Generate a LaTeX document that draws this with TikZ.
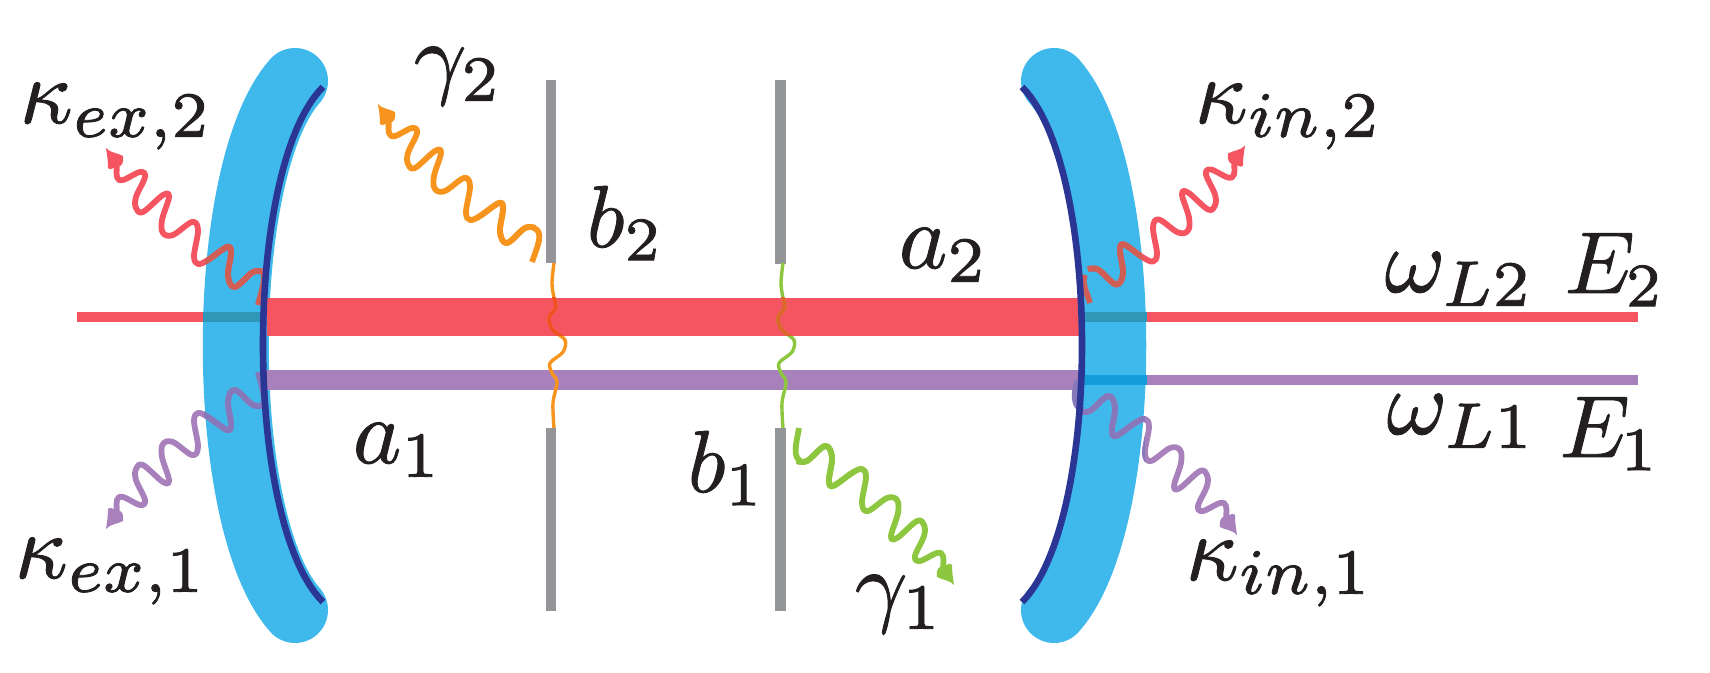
\documentclass[tikz,border=0pt]{standalone}
\definecolor{rd}{HTML}{F45560}
\definecolor{pu}{HTML}{A881BC}
\definecolor{bl}{HTML}{3FB8EC}
\definecolor{dk}{HTML}{2B3594}
\definecolor{gr}{HTML}{939598}
\definecolor{org}{HTML}{F7941D}
\definecolor{grn}{HTML}{8DC63F}
\definecolor{rdb}{HTML}{D05E55}
\definecolor{pub}{HTML}{8678BB}
\definecolor{rdo}{HTML}{2F97B7}
\definecolor{puo}{HTML}{129CDB}
\definecolor{orr}{HTML}{F04E23}
\definecolor{grr}{HTML}{DE6428}
\definecolor{ink}{HTML}{231F20}
\newcommand\wavecurve{plot[smooth,tension=.6] coordinates {(263,272)(253,272)(235,287)(228,276)(231,253)(227,247)(208,260)(198,264)(194,256)(198,230)(192,222)(173,235)(163,233)(162,220)(169,197)(163,195)(143,212)(136,208)(136,197)(145,177)(140,172)(123,180)(117,177)(117,163)}}
\newcommand\waveblob{(106,148) .. controls (110,153) and (118,153) .. (123,156) .. controls (124,163) and (122,166) .. (117,167) .. controls (113,167) and (111,171) .. (108,168) .. controls (108,160) and (107,155) .. (106,148) -- cycle}
\newcommand\wavegroup[4]{% transform, colour, colour on mirror, local clip x
  \begin{scope}[#1]
    \draw[wavestroke,#2] \wavecurve;
    \fill[#2] \waveblob;
    \begin{scope}
      \clip (#4,0) rectangle (300,320);
      \draw[wavestroke,#3] \wavecurve;
    \end{scope}
  \end{scope}}
\newcommand\thinwave{plot[smooth,tension=.55] coordinates {(554,263)(552,283)(554,298)(556,307)(549,318)(553,330)(565,340)(563,352)(550,363)(552,373)(557,382)(553,403)(554,428)}}
\tikzset{
  wavestroke/.style={line width=2.9pt,line join=round},
  thinstroke/.style={line width=1.7pt},
  labbase/.style={anchor=base west,inner sep=0pt,text=ink,
    execute at begin node={\special{pdf:code 2 Tr 0.09 w}},
    execute at end node={\special{pdf:code 0 Tr}}},
  lab/.style={labbase,scale=4.6},
  labs/.style={labbase,scale=4.4},
  mirrorbody/.style={bl,line width=33pt,line cap=round},
  mirrorface/.style={dk,line width=3.3pt},
  slit/.style={gr,line width=5.25pt},
}
\begin{document}
\begin{tikzpicture}[x=0.5pt,y=-0.5pt]
\useasboundingbox (0,0) rectangle (1710,673);
% thin beams
\fill[rd] (77,312) rectangle (1638,322);
\fill[pu] (1000,375) rectangle (1638,385);
% mirrors
\draw[mirrorbody] (295,81) .. controls (216,170) and (216,521) .. (295,610);
\draw[mirrorbody] (1054,81) .. controls (1133,170) and (1133,521) .. (1054,610);
\fill[rdo] (203,312) rectangle (262,322);
\fill[rdo] (1084,312) rectangle (1147,322);
\fill[puo] (1084,375) rectangle (1147,385);
% thick beams
\fill[rd] (267,298) rectangle (1080,336);
\fill[pu] (263,370) rectangle (1080,390);
% slits
\draw[slit] (551,80) -- (551,263);
\draw[slit] (551,428) -- (551,611);
\draw[slit] (780.5,80) -- (780.5,264);
\draw[slit] (780.5,428) -- (780.5,611);
% tails
\draw[wavestroke,rdb] (263,272) .. controls (266,280) and (261,292) .. (258,305);
\draw[wavestroke,pub] (263,405) .. controls (266,397) and (261,385) .. (258,372);
\draw[wavestroke,rdb] (1085,275) .. controls (1081,283) and (1087,292) .. (1090,303);
\draw[wavestroke,pub] (1083,410) .. controls (1073,408) and (1073,392) .. (1078,380);
\draw[wavestroke,org] (534,228) .. controls (544,232) and (538,245) .. (532,262);
\draw[wavestroke,grn] (802,462) .. controls (792,458) and (796,445) .. (799,428);
% wavy emission
\wavegroup{}{rd}{rdb}{205}
\wavegroup{shift={(0,677)},yscale=-1}{pu}{pub}{204}
\wavegroup{shift={(1351,-2.5)},xscale=-1}{rd}{rdb}{209}
\wavegroup{shift={(1343,683)},xscale=-1,yscale=-1}{pu}{pub}{198}
\wavegroup{shift={(272,-44)}}{org}{org}{205}
\wavegroup{shift={(1060,733)},xscale=-1,yscale=-1}{grn}{grn}{205}
% thin vertical waves
\draw[thinstroke,org] \thinwave;
\begin{scope}[shift={(229,0)}]
  \draw[thinstroke,grn] \thinwave;
\end{scope}
\begin{scope}
  \clip (500,298) rectangle (850,336);
  \draw[thinstroke,orr] \thinwave;
  \begin{scope}[shift={(229,0)}]
    \draw[thinstroke,grr] \thinwave;
  \end{scope}
\end{scope}
% mirror faces
\draw[mirrorface] (323,87) .. controls (243,167) and (243,522) .. (323,602);
\draw[mirrorface] (1022,87) .. controls (1102,167) and (1102,522) .. (1022,602);
% labels
\node[lab] (kex2) at (18,123) {$\kappa_{ex,2}$};
\node[lab] (kex1) at (13,578) {$\kappa_{ex,1}$};
\node[lab] (g2) at (412,87) {$\gamma_2$};
\node[lab] (g1) at (853,615) {$\gamma_1$};
\node[labs] (b2) at (585,247) {$b_2$};
\node[labs] (b1) at (686,492) {$b_1$};
\node[lab] (a1) at (351,463) {$a_1$};
\node[lab] (a2) at (897,268) {$a_2$};
\node[lab] (kin2) at (1193,123) {$\kappa_{in,2}$};
\node[lab] (kin1) at (1184,580) {$\kappa_{in,1}$};
\node[lab] (wl2) at (1383,292) {$\omega_{L2}$};
\node[lab] (wl1) at (1385,434) {$\omega_{L1}$};
\node[labs] (e2) at (1563,293) {$E_{\mkern-1mu 2}$};
\node[labs] (e1) at (1558,457) {$E_{\mkern-1mu 1}$};
\end{tikzpicture}
\end{document}
